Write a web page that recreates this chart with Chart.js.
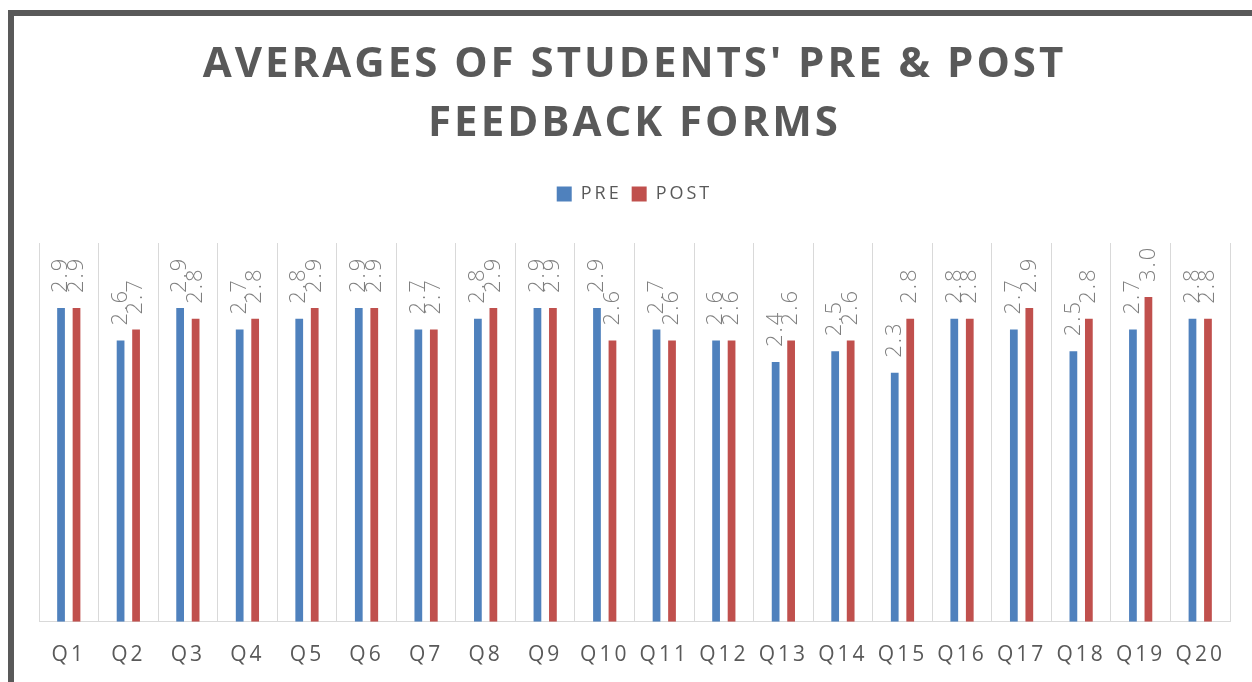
<!DOCTYPE html>
<html>
<head>
<meta charset="utf-8">
<script src="https://cdn.jsdelivr.net/npm/chart.js@4.4.1/dist/chart.umd.min.js"></script>
<style>
  html, body { margin: 0; padding: 0; background: #fff; }
  body { width: 1252px; height: 682px; overflow: hidden; position: relative; }
  #frame { position: absolute; left: 8px; top: 10px; width: 1400px; height: 800px; border-left: 6px solid #595959; border-top: 6px solid #595959; }
  #wrap { position: absolute; left: 0; top: 0; width: 1252px; height: 682px; }
</style>
</head>
<body>
<div id="frame"></div>
<div id="wrap"><canvas id="chart"></canvas></div>
<script>
// Data
const categories = ['Q1', 'Q2', 'Q3', 'Q4', 'Q5', 'Q6', 'Q7', 'Q8', 'Q9', 'Q10',
  'Q11', 'Q12', 'Q13', 'Q14', 'Q15', 'Q16', 'Q17', 'Q18', 'Q19', 'Q20'];
const preValues = [2.9, 2.6, 2.9, 2.7, 2.8, 2.9, 2.7, 2.8, 2.9, 2.9,
  2.7, 2.6, 2.4, 2.5, 2.3, 2.8, 2.7, 2.5, 2.7, 2.8];
const postValues = [2.9, 2.7, 2.8, 2.8, 2.9, 2.9, 2.7, 2.9, 2.9, 2.6,
  2.6, 2.6, 2.6, 2.6, 2.8, 2.8, 2.9, 2.8, 3.0, 2.8];
const titleLines = ["AVERAGES OF STUDENTS' PRE & POST", 'FEEDBACK FORMS'];

const GREY = '#595959';
Chart.defaults.font.family = "'Open Sans', sans-serif";

// Wide letter spacing like the original
const spacing = {
  id: 'spacing',
  beforeLayout(chart) { chart.ctx.letterSpacing = '3px'; },
  beforeDraw(chart) { chart.ctx.letterSpacing = '3px'; }
};

// Rotated value labels above each bar
const barLabels = {
  id: 'barLabels',
  afterDatasetsDraw(chart) {
    const ctx = chart.ctx;
    ctx.save();
    ctx.font = "300 22px 'Open Sans'";
    ctx.letterSpacing = '2px';
    ctx.fillStyle = '#7f7f7f';
    ctx.textAlign = 'left';
    ctx.textBaseline = 'middle';
    chart.data.datasets.forEach((ds, i) => {
      chart.getDatasetMeta(i).data.forEach((bar, j) => {
        ctx.save();
        ctx.translate(bar.x, bar.y - 15);
        ctx.rotate(-Math.PI / 2);
        ctx.fillText(ds.data[j].toFixed(1), 0, 0);
        ctx.restore();
      });
    });
    ctx.restore();
  }
};

new Chart(document.getElementById('chart'), {
  type: 'bar',
  data: {
    labels: categories,
    datasets: [
      { label: 'PRE', data: preValues, backgroundColor: '#4f81bd', borderWidth: 0, barPercentage: 0.5, categoryPercentage: 0.52 },
      { label: 'POST', data: postValues, backgroundColor: '#c0504d', borderWidth: 0, barPercentage: 0.5, categoryPercentage: 0.52 }
    ]
  },
  options: {
    responsive: true,
    maintainAspectRatio: false,
    animation: false,
    layout: { padding: { left: 39, right: 22, top: 0, bottom: -7 } },
    plugins: {
      title: {
        display: true,
        text: titleLines,
        color: GREY,
        font: { size: 42, weight: 'bold', lineHeight: '58.5px' },
        padding: { top: 36, bottom: 22 }
      },
      legend: {
        position: 'top',
        weight: 1800,
        labels: { boxWidth: 15, boxHeight: 15, padding: 10, color: GREY, font: { size: 18 } }
      },
      // empty subtitle used as a spacer between legend and plot
      subtitle: {
        display: true,
        text: '',
        font: { size: 10, lineHeight: 1 },
        padding: { top: 20, bottom: 0 }
      },
      tooltip: { enabled: false }
    },
    scales: {
      x: {
        grid: { color: '#d9d9d9', drawTicks: false, offset: true },
        border: { color: '#d9d9d9' },
        ticks: { color: GREY, font: { size: 21 }, padding: 21, maxRotation: 0, autoSkip: false }
      },
      y: { display: false, min: 0, max: 3.5 }
    }
  },
  plugins: [spacing, barLabels]
});
</script>
</body>
</html>
